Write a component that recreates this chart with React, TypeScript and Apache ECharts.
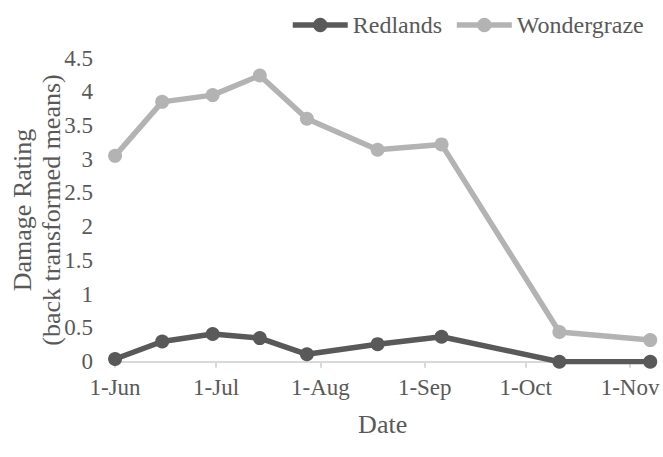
import React, { useEffect, useRef } from "react";
import * as echarts from "echarts";

const dates = [
  "2023-06-01",
  "2023-06-15",
  "2023-06-30",
  "2023-07-14",
  "2023-07-28",
  "2023-08-18",
  "2023-09-06",
  "2023-10-11",
  "2023-11-07",
];
const redlands = [0.04, 0.3, 0.41, 0.35, 0.11, 0.26, 0.37, 0.0, 0.0];
const wondergraze = [3.05, 3.85, 3.95, 4.24, 3.6, 3.14, 3.22, 0.44, 0.32];
const tickDates = [
  "2023-06-01",
  "2023-07-01",
  "2023-08-01",
  "2023-09-01",
  "2023-10-01",
  "2023-11-01",
];
const tickLabels = ["1-Jun", "1-Jul", "1-Aug", "1-Sep", "1-Oct", "1-Nov"];
const axisStart = "2023-05-31";
const axisEnd = "2023-11-08";
const yTitle = "Damage Rating\n(back transformed means)";

const FONT = "Liberation Serif";
const TEXT = "#595959";
const DARK = "#595959";
const LIGHT = "#b3b3b3";

export default function App() {
  const ref = useRef<HTMLDivElement>(null);
  useEffect(() => {
    if (!ref.current) return;
    const chart = echarts.init(ref.current, undefined, { renderer: "svg" });
    const half = 12 * 3600 * 1000;
    const ticks = tickDates.map((d) => Date.parse(d));
    const labelFor = (v: number) => {
      const i = ticks.findIndex((t) => Math.abs(t - v) < 1000);
      return i >= 0 ? tickLabels[i] : "";
    };
    chart.setOption({
      animation: false,
      textStyle: { fontFamily: FONT },
      legend: {
        left: 285,
        top: 8,
        itemWidth: 55,
        itemHeight: 18,
        itemGap: 12,
        lineStyle: { width: 5.5 },
        textStyle: { fontFamily: FONT, fontSize: 24, color: TEXT },
        data: ["Redlands", "Wondergraze"],
      },
      grid: {
        left: 110,
        right: 7.7,
        top: 58,
        bottom: 95.3,
        containLabel: false,
        outerBoundsMode: "none",
      },
      graphic: [
        {
          type: "text",
          x: 36.5,
          y: 210,
          rotation: Math.PI / 2,
          style: {
            text: yTitle,
            fontFamily: FONT,
            fontSize: 26,
            lineHeight: 29,
            fill: TEXT,
            align: "center",
            verticalAlign: "middle",
          },
        },
      ],
      xAxis: {
        type: "value",
        min: Date.parse(axisStart) - half,
        max: Date.parse(axisEnd) + half,
        name: "Date",
        nameLocation: "middle",
        nameGap: 50,
        nameTextStyle: { fontFamily: FONT, fontSize: 26, color: TEXT },
        axisLine: { show: true, lineStyle: { color: "#d9d9d9", width: 2 } },
        axisTick: {
          show: true,
          customValues: ticks,
          length: 6,
          lineStyle: { color: "#d9d9d9", width: 2 },
        },
        splitLine: { show: false },
        axisLabel: {
          customValues: ticks,
          formatter: (v: number) => labelFor(v),
          margin: 14,
          fontFamily: FONT,
          fontSize: 23,
          color: TEXT,
          hideOverlap: false,
        },
      },
      yAxis: {
        type: "value",
        min: 0,
        max: 4.5,
        interval: 0.5,
        axisLine: { show: false },
        axisTick: { show: false },
        splitLine: { show: false },
        axisLabel: { margin: 17, fontFamily: FONT, fontSize: 23, color: TEXT },
      },
      series: [
        {
          name: "Redlands",
          type: "line",
          data: dates.map((d, i) => [Date.parse(d), redlands[i]]),
          symbol: "circle",
          symbolSize: 14,
          lineStyle: { width: 5.5, color: DARK },
          itemStyle: { color: DARK },
        },
        {
          name: "Wondergraze",
          type: "line",
          data: dates.map((d, i) => [Date.parse(d), wondergraze[i]]),
          symbol: "circle",
          symbolSize: 14,
          lineStyle: { width: 5.5, color: LIGHT },
          itemStyle: { color: LIGHT },
        },
      ],
    });
    return () => chart.dispose();
  }, []);
  return (
    <div
      ref={ref}
      style={{ position: "absolute", left: 0, top: 0, width: 663, height: 457 }}
    />
  );
}
